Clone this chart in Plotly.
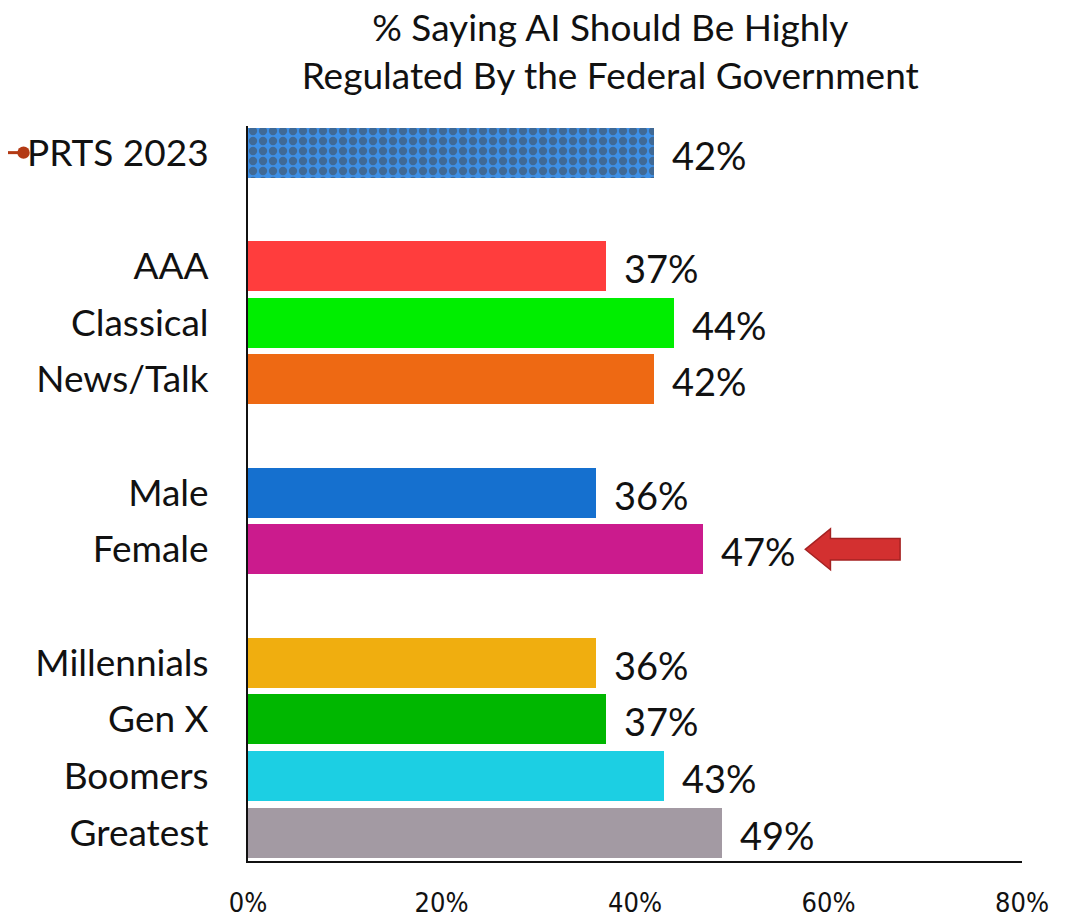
import plotly.graph_objects as go

categories = ["PRTS 2023", "", "AAA", "Classical", "News/Talk", " ", "Male", "Female", "  ",
              "Millennials", "Gen X", "Boomers", "Greatest"]
values = [42, None, 37, 44, 42, None, 36, 47, None, 36, 37, 43, 49]
colors = ["#3d8fe6", "#ffffff", "#ff3d3d", "#00ee00", "#ee6913", "#ffffff", "#1570cf", "#cb1b8d",
          "#ffffff", "#f0ae0f", "#00b700", "#1ccfe3", "#a39aa3"]
x_ticks = [0, 20, 40, 60, 80]
x_labels = ["0%", "20%", "40%", "60%", "80%"]
highlight = "Female"

pos = list(range(len(categories)))
bar_pos = [p for p, v in zip(pos, values) if v is not None]
bar_vals = [v for v in values if v is not None]
bar_cols = [c for c, v in zip(colors, values) if v is not None]
shapes_pat = ["." if categories[p] == "PRTS 2023" else "" for p in bar_pos]

fig = go.Figure()
fig.add_trace(go.Bar(
    y=bar_pos, x=bar_vals, orientation="h", width=0.88,
    marker=dict(color=bar_cols, line=dict(width=0),
                pattern=dict(shape=shapes_pat, fgcolor="#16579a", size=10, solidity=0.55,
                             fillmode="overlay")),
    hoverinfo="skip",
))

font_main = "Lato, Noto Sans, sans-serif"
annotations = []
for p, v in zip(bar_pos, bar_vals):
    annotations.append(dict(x=v, y=p, xref="x", yref="y", text=f"{v}%", showarrow=False,
                            xanchor="left", yanchor="middle", xshift=16, yshift=-2,
                            font=dict(size=38, color="#111111", family=font_main)))

shapes = []
# arrow pointing at highlighted category
fp = categories.index(highlight)
fv = values[fp]
tip = fv + 10.6
hb = tip + 2.6
end = tip + 9.8
path = (f"M {tip},{fp} L {hb},{fp-0.36} L {hb},{fp-0.19} L {end},{fp-0.19} "
        f"L {end},{fp+0.19} L {hb},{fp+0.19} L {hb},{fp+0.36} Z")
shapes.append(dict(type="path", path=path, xref="x", yref="y",
                   fillcolor="#d33030", line=dict(color="#a52222", width=1.5)))
# marker to the left of PRTS 2023
shapes.append(dict(type="line", xref="paper", yref="y", x0=-0.33, x1=-0.29, y0=0, y1=0,
                   line=dict(color="#b33a14", width=3)))
shapes.append(dict(type="circle", xref="paper", yref="y", x0=-0.298, x1=-0.282,
                   y0=-0.11, y1=0.11, fillcolor="#b33a14", line=dict(width=0)))

fig.update_layout(
    width=1076, height=920,
    margin=dict(l=240, r=62, t=118, b=67, autoexpand=False),
    plot_bgcolor="white", paper_bgcolor="white",
    showlegend=False,
    title=dict(text="% Saying AI Should Be Highly<br>Regulated By the Federal Government",
               x=0.468, xanchor="center", xref="paper",
               y=1 - 33 / 920, yanchor="middle", yref="container",
               font=dict(size=37, color="#111111", family=font_main)),
    xaxis=dict(range=[0, 80], tickvals=x_ticks, ticktext=x_labels, showgrid=False,
               zeroline=False, showline=True, linecolor="#111111", linewidth=2,
               ticks="", ticklabelstandoff=17, automargin=False,
               tickfont=dict(size=27, color="#111111",
                             family="Liberation Sans Narrow, DejaVu Sans Condensed, sans-serif")),
    yaxis=dict(range=[12.5, -0.47], tickvals=pos, ticktext=categories, showgrid=False,
               zeroline=False, showline=True, linecolor="#111111", linewidth=2,
               ticks="", ticklabelstandoff=30, automargin=False,
               tickfont=dict(size=37, color="#111111", family=font_main)),
    annotations=annotations,
    shapes=shapes,
    bargap=0,
)

fig.write_html("out.html")
